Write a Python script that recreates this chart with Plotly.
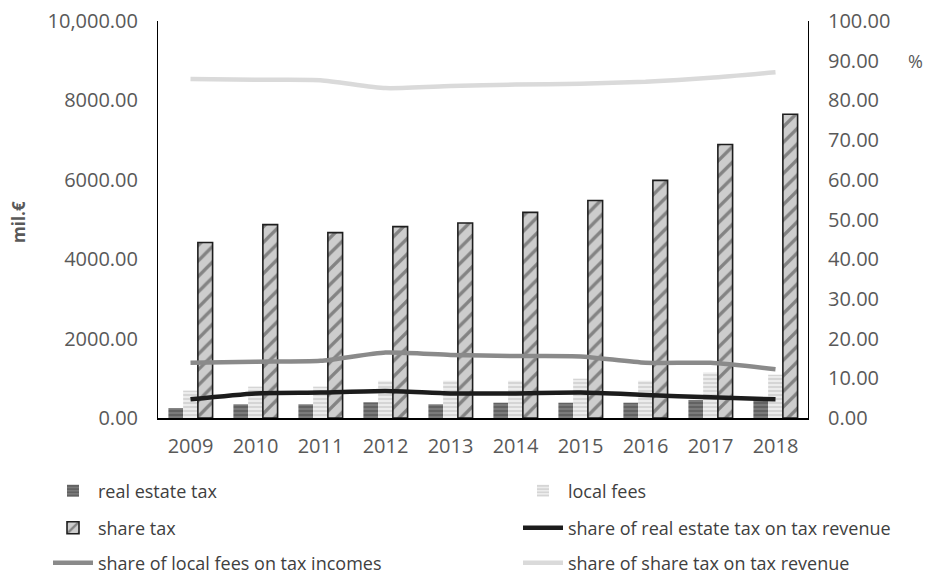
import plotly.graph_objects as go

years = ["2009", "2010", "2011", "2012", "2013", "2014", "2015", "2016", "2017", "2018"]
real_estate_tax = [250, 345, 345, 395, 345, 385, 385, 385, 455, 455]
local_fees = [690, 790, 790, 940, 940, 940, 990, 940, 1150, 1090]
share_tax = [4420, 4870, 4670, 4820, 4910, 5180, 5480, 5985, 6890, 7650]
share_real_estate_pct = [4.7, 6.2, 6.4, 6.8, 6.2, 6.2, 6.4, 5.8, 5.2, 4.7]
share_local_fees_pct = [13.9, 14.2, 14.4, 16.5, 15.9, 15.6, 15.5, 13.9, 13.9, 12.3]
share_share_tax_pct = [85.4, 85.2, 85.1, 83.1, 83.6, 84.0, 84.2, 84.7, 85.7, 87.1]

left_ticks = [0, 2000, 4000, 6000, 8000, 10000]
left_ticktext = ["0.00", "2000.00", "4000.00", "6000.00", "8000.00", "10,000.00"]
right_ticks = [0, 10, 20, 30, 40, 50, 60, 70, 80, 90, 100]
right_ticktext = ["%.2f" % v for v in right_ticks]

tick_font = dict(family="Open Sans, Noto Sans, sans-serif", size=20, color="#595959")
leg_font = dict(family="Open Sans, Noto Sans, sans-serif", size=18, color="#404040")

fig = go.Figure()
fig.add_trace(go.Bar(
    x=years, y=real_estate_tax, name="real estate tax", legend="legend",
    marker=dict(color="#6e6e6e", line=dict(width=0),
                pattern=dict(shape="-", fgcolor="#454545", bgcolor="#7a7a7a", size=4, solidity=0.45))))
fig.add_trace(go.Bar(
    x=years, y=local_fees, name="local fees", legend="legend2",
    marker=dict(color="#d0d0d0", line=dict(width=0),
                pattern=dict(shape="-", fgcolor="#bdbdbd", bgcolor="#ececec", size=4, solidity=0.5))))
fig.add_trace(go.Bar(
    x=years, y=share_tax, name="share tax", legend="legend3",
    marker=dict(color="#cfcfcf", line=dict(width=1.6, color="#1e1e1e"),
                pattern=dict(shape="/", fgcolor="#3a3a3a", bgcolor="#cdcdcd", size=11, solidity=0.3))))
fig.add_trace(go.Scatter(
    x=years, y=share_real_estate_pct, name="share of real estate tax on tax revenue", legend="legend4",
    yaxis="y2", mode="lines", line=dict(color="#1c1c1c", width=4.5, shape="spline", smoothing=0.6)))
fig.add_trace(go.Scatter(
    x=years, y=share_local_fees_pct, name="share of local fees on tax incomes", legend="legend5",
    yaxis="y2", mode="lines", line=dict(color="#8a8a8a", width=4.5, shape="spline", smoothing=0.6)))
fig.add_trace(go.Scatter(
    x=years, y=share_share_tax_pct, name="share of share tax on tax revenue", legend="legend6",
    yaxis="y2", mode="lines", line=dict(color="#dadada", width=4.5, shape="spline", smoothing=0.6)))

L, R, T, B = 158, 141, 21, 155
W, H = 949, 573
pw, ph = W - L - R, H - T - B

def px_x(px):
    return (px - L) / pw

def px_y(py):
    return (H - B - py) / ph

def leg(xp, yp):
    return dict(orientation="h", x=px_x(xp), y=px_y(yp), xanchor="left", yanchor="middle",
                font=leg_font, bgcolor="rgba(0,0,0,0)", itemwidth=40)

col1, col2 = 48, 518
row1, row2, row3 = 491, 528, 563

fig.update_layout(
    width=W, height=H,
    margin=dict(l=L, r=R, t=T, b=B, autoexpand=False),
    paper_bgcolor="white", plot_bgcolor="white",
    barmode="group", bargap=0.32, bargroupgap=0,
    showlegend=True,
    legend=leg(col1, row1),
    legend2=leg(col2, row1),
    legend3=leg(col1, row2),
    legend4=leg(col2, row2),
    legend5=leg(col1, row3),
    legend6=leg(col2, row3),
    xaxis=dict(type="category", showgrid=False, showline=True, linecolor="#000", linewidth=2,
               ticks="", tickfont=tick_font, ticklabelstandoff=9),
    yaxis=dict(range=[0, 10000], tickvals=left_ticks, ticktext=left_ticktext, showgrid=False,
               zeroline=False, showline=True, linecolor="#000", linewidth=1, ticks="",
               tickfont=tick_font, ticklabelstandoff=15),
    yaxis2=dict(range=[0, 100], tickvals=right_ticks, ticktext=right_ticktext, overlaying="y",
                side="right", showgrid=False, zeroline=False, showline=True, linecolor="#000",
                linewidth=1, ticks="", tickfont=tick_font, ticklabelstandoff=15),
    annotations=[
        dict(text="<b>mil.€</b>", x=px_x(18), y=px_y(222), xref="paper", yref="paper",
             textangle=-90, showarrow=False, xanchor="center", yanchor="middle",
             font=dict(family="Open Sans, Noto Sans, sans-serif", size=17, color="#595959")),
        dict(text="%", x=px_x(915), y=px_y(61), xref="paper", yref="paper",
             showarrow=False, xanchor="center", yanchor="middle",
             font=dict(family="Open Sans, Noto Sans, sans-serif", size=18, color="#595959")),
    ],
)

fig.write_html("out.html", config={"displayModeBar": False},
               post_script="document.body.style.margin='0';document.body.style.overflow='hidden';")
